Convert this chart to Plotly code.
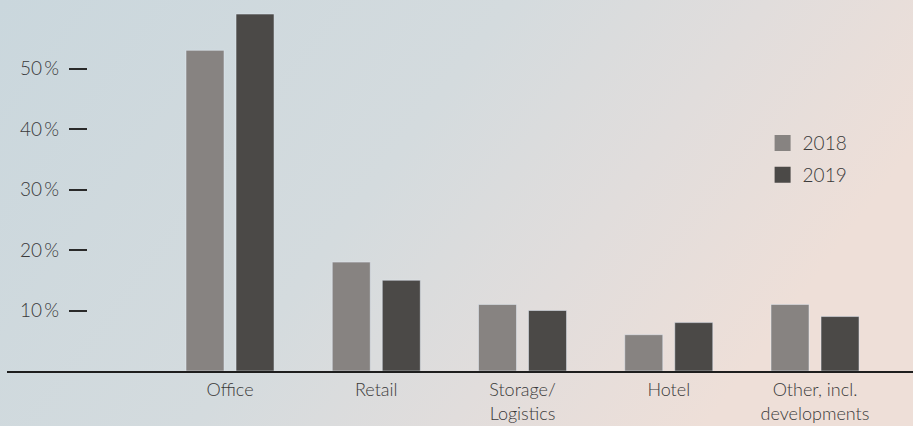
import plotly.graph_objects as go

categories = ["Office", "Retail", "Storage/<br>Logistics", "Hotel", "Other, incl.<br>developments"]
share_2018 = [53, 18, 11, 6, 11]
share_2019 = [59, 15, 10, 8, 9]
tick_vals = [10, 20, 30, 40, 50]
tick_text = ["10\u2009%", "20\u2009%", "30\u2009%", "40\u2009%", "50\u2009%"]

c2018 = "#878381"
c2019 = "#4b4947"
txt = "#3a3a3a"
font = dict(family="Lato", size=19, color=txt, weight=300)

W, H = 913, 426
L, R, T, B = 7, 0, 8, 55

gradient = (
    "data:image/svg+xml;utf8,"
    "<svg xmlns='http://www.w3.org/2000/svg' width='913' height='426'>"
    "<defs><linearGradient id='g' x1='0' y1='0' x2='1' y2='0.35'>"
    "<stop offset='0' stop-color='%23cad7dd'/>"
    "<stop offset='0.5' stop-color='%23d4dbde'/>"
    "<stop offset='0.75' stop-color='%23e1dddc'/>"
    "<stop offset='1' stop-color='%23eedfd8'/>"
    "</linearGradient></defs>"
    "<rect width='913' height='426' fill='url(%23g)'/></svg>"
)

fig = go.Figure()
fig.add_bar(x=categories, y=share_2018, marker_color=c2018, showlegend=False)
fig.add_bar(x=categories, y=share_2019, marker_color=c2019, showlegend=False)

# legend entries with bigger square swatches
for name, col in [("2018", c2018), ("2019", c2019)]:
    fig.add_scatter(x=[None], y=[None], mode="markers", name=name, legendgroup=name,
                    marker=dict(symbol="square", size=16, color=col))

fig.update_layout(
    width=W, height=H,
    margin=dict(l=L, r=R, t=T, b=B),
    paper_bgcolor="rgba(0,0,0,0)",
    plot_bgcolor="rgba(0,0,0,0)",
    barmode="group",
    bargap=0.316,
    bargroupgap=0.24,
    font=font,
    legend=dict(x=0.834, y=0.68, xanchor="left", yanchor="top",
                traceorder="grouped", tracegroupgap=4,
                bgcolor="rgba(0,0,0,0)", font=font),
    images=[dict(source=gradient, xref="paper", yref="paper",
                 x=-L / (W - L - R), y=1 + T / (H - T - B),
                 sizex=W / (W - L - R), sizey=H / (H - T - B),
                 sizing="stretch", layer="below", xanchor="left", yanchor="top")],
)

fig.update_xaxes(range=[-1.525, 4.67], showline=True, linecolor="#1e1e1e", linewidth=1.5,
                 ticks="", showgrid=False, tickfont=dict(font, size=18), ticklabelstandoff=2,
                 automargin=False)
fig.update_yaxes(range=[0, 60], anchor="free", position=(87 - L) / (W - L - R),
                 showline=False, showgrid=False, zeroline=False, automargin=False,
                 tickvals=tick_vals, ticktext=tick_text,
                 ticks="outside", ticklen=18, tickwidth=1.5, tickcolor="#2a2a2a",
                 ticklabelstandoff=6, tickfont=font)

fig.write_html("out.html", config={"displayModeBar": False},
               post_script="document.body.style.margin='0';")
